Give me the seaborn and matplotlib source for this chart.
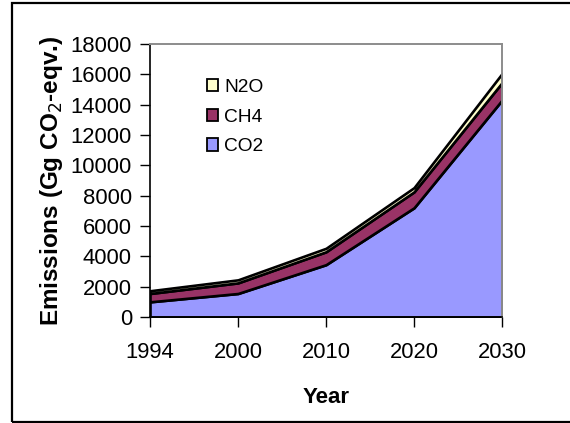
import matplotlib
matplotlib.use("Agg")
import matplotlib.pyplot as plt
from matplotlib.patches import Patch, Rectangle
import seaborn as sns
import pandas as pd

# Emissions by gas (Gg CO2-eqv.)
years = ["1994", "2000", "2010", "2020", "2030"]
co2 = [1000, 1550, 3450, 7200, 14300]
ch4 = [550, 700, 850, 1050, 1150]
n2o = [180, 200, 230, 280, 600]

gas_names = ["CO2", "CH4", "N2O"]
gas_colors = ["#9999FF", "#993366", "#FFFFCC"]
y_ticks = [0, 2000, 4000, 6000, 8000, 10000, 12000, 14000, 16000, 18000]

df = pd.DataFrame({"Year": years, "CO2": co2, "CH4": ch4, "N2O": n2o})

sns.set_theme(style="white", rc={"text.color": "black",
                                 "axes.labelcolor": "black",
                                 "xtick.color": "black",
                                 "ytick.color": "black"})
plt.rcParams["font.family"] = ["Liberation Sans", "DejaVu Sans"]

W, H = 570, 423
fig = plt.figure(figsize=(W / 100, H / 100), dpi=100)
ax = fig.add_axes([150 / W, 1 - 317 / H, (502 - 150) / W, (317 - 44) / H])

x = list(range(len(df)))
ax.stackplot(x, df["CO2"], df["CH4"], df["N2O"],
             colors=gas_colors, edgecolor="black", linewidth=1.9,
             labels=gas_names)

ax.set_xlim(0, len(df) - 1)
ax.set_ylim(0, 18000)
ax.set_xticks(x)
ax.set_xticklabels(df["Year"])
ax.set_yticks(y_ticks)
ax.set_yticklabels([str(v) for v in y_ticks])

ax.tick_params(axis="y", direction="out", length=7, width=1, color="black",
               labelsize=15.8, pad=6, left=True)
ax.tick_params(axis="x", direction="out", length=7, width=1, color="black",
               labelsize=15.8, pad=11, bottom=True)

for side in ["left", "bottom"]:
    ax.spines[side].set_color("black")
    ax.spines[side].set_linewidth(1.2)
for side in ["top", "right"]:
    ax.spines[side].set_color("#8C8C8C")
    ax.spines[side].set_linewidth(1.4)

ax.set_ylabel("Emissions (Gg CO$_2$-eqv.)", fontsize=17.5, fontweight="bold",
              labelpad=4)
ax.set_xlabel("Year", fontsize=16, fontweight="bold", labelpad=17)

handles = [Patch(facecolor=c, edgecolor="black", linewidth=1.3)
           for c in gas_colors[::-1]]
ax.legend(handles, gas_names[::-1], loc="upper left",
          bbox_to_anchor=(0.14, 0.90), frameon=False, fontsize=13.8,
          handlelength=0.6, handleheight=0.6, handletextpad=0.3,
          labelspacing=0.66, borderaxespad=0)

# outer chart frame
fig.patches.append(Rectangle((11.5 / W, 1 - 421.5 / H), 1.0, (421.5 - 3.5) / H,
                             transform=fig.transFigure, fill=False,
                             edgecolor="black", linewidth=1.6))

fig.savefig("out.png", dpi=100)
